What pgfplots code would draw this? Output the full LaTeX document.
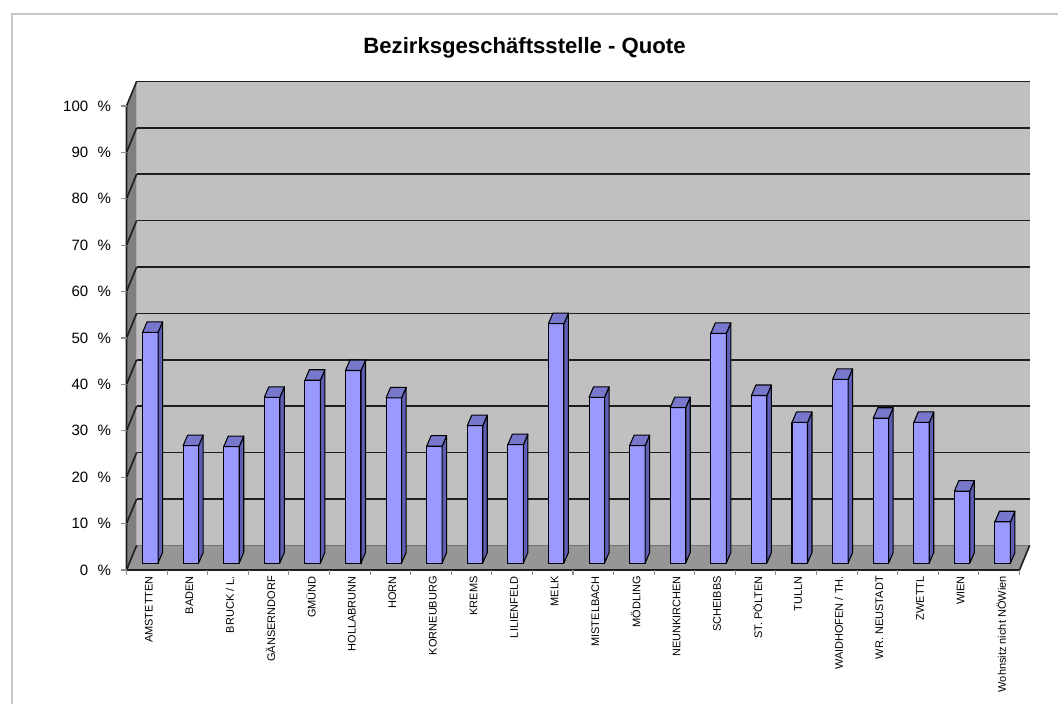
\documentclass[border=0pt]{standalone}
\usepackage{fontspec}
\setmainfont{Liberation Sans}
\usepackage{pgfplots}
\usepackage{pgfplotstable}
\pgfplotsset{compat=1.18}
\definecolor{wallback}{HTML}{C0C0C0}
\definecolor{wallleft}{HTML}{808080}
\definecolor{floorc}{HTML}{969696}
\definecolor{barfront}{HTML}{9999FF}
\definecolor{bartopc}{HTML}{7777CC}
\definecolor{barsidec}{HTML}{5E5EB4}
\definecolor{gridc}{HTML}{1E1E1E}

\pgfplotstableread{
x v
0 49.7
1 25.3
2 25.1
3 35.7
4 39.4
5 41.5
6 35.6
7 25.2
8 29.6
9 25.5
10 51.6
11 35.7
12 25.3
13 33.5
14 49.5
15 36.1
16 30.3
17 39.6
18 31.2
19 30.3
20 15.5
21 8.9
}\quotetab

% side and top faces of a 3D column, drawn at the top of each bar
\pgfdeclareplotmark{bar3d}{%
  \pgfmathsetlengthmacro{\hgt}{\barv*3.48pt}%
  \pgfsetlinewidth{0.8pt}%
  \pgfsetstrokecolor{black}%
  \pgfsetroundjoin
  \pgfpathmoveto{\pgfpoint{8.4375pt}{0pt}}%
  \pgfpathlineto{\pgfpoint{11.8125pt}{7.875pt}}%
  \pgfpathlineto{\pgfpoint{11.8125pt}{7.875pt-\hgt}}%
  \pgfpathlineto{\pgfpoint{8.4375pt}{-\hgt}}%
  \pgfpathclose
  \pgfsetfillcolor{barsidec}%
  \pgfusepath{fill,stroke}%
  \pgfpathmoveto{\pgfpoint{-3.1875pt}{0pt}}%
  \pgfpathlineto{\pgfpoint{8.4375pt}{0pt}}%
  \pgfpathlineto{\pgfpoint{11.8125pt}{7.875pt}}%
  \pgfpathlineto{\pgfpoint{0.1875pt}{7.875pt}}%
  \pgfpathclose
  \pgfsetfillcolor{bartopc}%
  \pgfusepath{fill,stroke}%
}

\begin{document}
\begin{tikzpicture}
\draw[color=black!22, line width=1.5pt] (9pt,0pt) -- (9pt,517.5pt) -- (794pt,517.5pt);
\node[font=\bfseries\fontsize{16.6}{20}\selectfont, inner sep=0pt] at (393.4pt,492.5pt) {Bezirksgeschäftsstelle - Quote};
\begin{axis}[
  set layers,
  at={(94.875pt,100.5pt)}, anchor=south west,
  scale only axis, width=669.75pt, height=348pt,
  xmin=-0.5, xmax=21.5, ymin=-1.5, ymax=98.5,
  clip=false,
  axis line style={draw=none},
  tick align=outside,
  xtick pos=bottom, ytick pos=left,
  xtick={0,...,21},
  xticklabels={AMSTETTEN,BADEN,BRUCK / L.,GÄNSERNDORF,GMÜND,HOLLABRUNN,HORN,KORNEUBURG,KREMS,LILIENFELD,MELK,MISTELBACH,MÖDLING,NEUNKIRCHEN,SCHEIBBS,ST. PÖLTEN,TULLN,WAIDHOFEN / TH.,WR. NEUSTADT,ZWETTL,WIEN,Wohnsitz nicht NÖWien},
  minor xtick={-0.5,0.5,...,21.5},
  major x tick style={draw=none},
  minor x tick style={draw=black!45, line width=0.8pt},
  minor tick length=3.75pt,
  major tick length=4.5pt,
  ytick={-1.5,8.5,18.5,28.5,38.5,48.5,58.5,68.5,78.5,88.5,98.5},
  yticklabels={0\hspace{7pt}\%,10\hspace{7pt}\%,20\hspace{7pt}\%,30\hspace{7pt}\%,40\hspace{7pt}\%,50\hspace{7pt}\%,60\hspace{7pt}\%,70\hspace{7pt}\%,80\hspace{7pt}\%,90\hspace{7pt}\%,100\hspace{7pt}\%},
  ytick style={draw=black!45, line width=0.8pt},
  yticklabel style={font=\fontsize{11.25}{13}\selectfont, anchor=east, inner sep=0pt, xshift=-7pt},
  xticklabel style={font=\fontsize{8.25}{10}\selectfont, rotate=90, anchor=east, inner sep=0pt, yshift=-1.5pt},
]
\begin{pgfonlayer}{axis background}
  \fill[wallback] (-0.25,3.8) rectangle (21.75,103.8);
  \fill[wallleft] (-0.5,-1.5) -- (-0.25,3.8) -- (-0.25,103.8) -- (-0.5,98.5) -- cycle;
  \fill[floorc] (-0.5,-1.5) -- (21.5,-1.5) -- (21.75,3.8) -- (-0.25,3.8) -- cycle;
  \draw[black!55, line width=0.6pt] (-0.25,3.8) -- (21.75,3.8);
  \pgfplotsinvokeforeach{13.8,23.8,33.8,43.8,53.8,63.8,73.8,83.8,93.8,103.8}{
    \draw[gridc, line width=1.2pt] (-0.25,#1) -- (21.75,#1);
    \draw[gridc, line width=1.2pt] (-0.5,#1-5.3) -- (-0.25,#1);
  }
  \draw[gridc, line width=1.2pt] (-0.5,-1.5) -- (-0.25,3.8);
  \draw[gridc, line width=1.2pt] (-0.5,98.5) -- (-0.5,-1.5) -- (21.5,-1.5) -- (21.75,3.8);
\end{pgfonlayer}
\addplot[ybar, bar width=11.625pt, bar shift=2.625pt, fill=barfront, draw=black, line width=0.8pt]
  table[x=x, y=v] {\quotetab};
\addplot[scatter, only marks, mark=bar3d,
  visualization depends on={\thisrow{v} \as \barv}]
  table[x=x, y=v] {\quotetab};
\end{axis}
\pgfresetboundingbox
\path[use as bounding box] (0pt,0pt) rectangle (793.5pt,528pt);
\end{tikzpicture}
\end{document}
